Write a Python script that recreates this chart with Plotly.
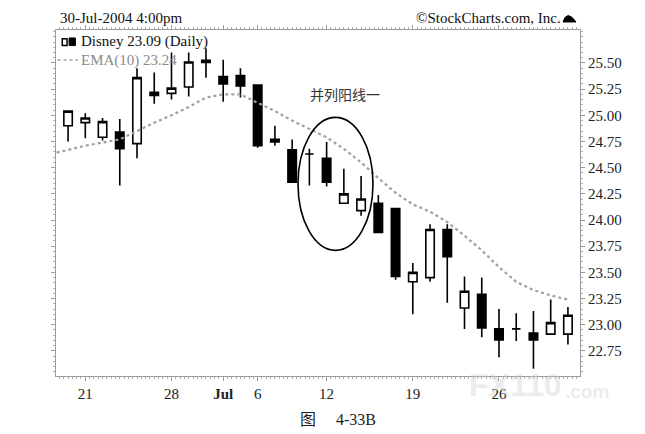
import plotly.graph_objects as go

# ---------------- data ----------------
DATES = ["Jun 18", "Jun 21", "Jun 22", "Jun 23", "Jun 24", "Jun 25", "Jun 28", "Jun 29",
         "Jun 30", "Jul 1", "Jul 2", "Jul 6", "Jul 7", "Jul 8", "Jul 9", "Jul 12", "Jul 13",
         "Jul 14", "Jul 15", "Jul 16", "Jul 19", "Jul 20", "Jul 21", "Jul 22", "Jul 23",
         "Jul 26", "Jul 27", "Jul 28", "Jul 29", "Jul 30"]
OPEN = [24.90, 24.93, 24.79, 24.84, 24.73, 25.22, 25.21, 25.27, 25.525, 25.37,
        25.38, 25.29, 24.77, 24.67, 24.63, 24.59, 24.16, 24.09, 24.16, 24.11,
        23.41, 23.45, 23.91, 23.16, 23.29, 22.96, 22.96, 22.92, 22.91, 22.91]
HIGH = [25.04, 25.02, 24.975, 24.965, 25.45, 25.41, 25.60, 25.60, 25.64, 25.53,
        25.45, 25.29, 24.90, 24.77, 24.68, 24.745, 24.49, 24.42, 24.24, 24.11,
        23.59, 23.96, 23.96, 23.46, 23.45, 23.15, 23.11, 23.13, 23.24, 23.17]
LOW = [24.75, 24.78, 24.76, 24.33, 24.59, 25.11, 25.15, 25.18, 25.36, 25.13,
       25.17, 24.69, 24.71, 24.36, 24.33, 24.32, 24.16, 24.04, 23.88, 23.43,
       23.10, 23.41, 23.21, 22.96, 22.88, 22.69, 22.845, 22.58, 22.91, 22.81]
CLOSE = [25.04, 24.975, 24.94, 24.68, 25.36, 25.19, 25.26, 25.51, 25.505, 25.30,
         25.28, 24.71, 24.745, 24.36, 24.63, 24.36, 24.25, 24.20, 23.88, 23.46,
         23.50, 23.91, 23.65, 23.32, 22.97, 22.855, 22.96, 22.855, 23.02, 23.09]
# EMA(10), starting one session earlier (Jun 17) than the first candle
EMA10 = [24.63, 24.67, 24.71, 24.74, 24.77, 24.85, 24.93, 25.00, 25.08, 25.17, 25.20,
         25.20, 25.12, 25.04, 24.95, 24.87, 24.79, 24.68, 24.55, 24.40, 24.26,
         24.15, 24.08, 23.98, 23.85, 23.71, 23.55, 23.41, 23.33, 23.28, 23.24]
X_TICK_DATES = ["Jun 21", "Jun 28", "Jul 1", "Jul 6", "Jul 12", "Jul 19", "Jul 26"]
X_TICK_LABELS = ["21", "28", "<b>Jul</b>", "6", "12", "19", "26"]
Y_TICKS = [22.75, 23.00, 23.25, 23.50, 23.75, 24.00, 24.25, 24.50, 24.75, 25.00, 25.25, 25.50]

x_idx = list(range(len(DATES)))
ema_idx = list(range(-1, len(DATES)))
tick_pos = [DATES.index(d) for d in X_TICK_DATES]

SERIF = "Liberation Serif, Times New Roman, serif"
CJK = "Noto Sans CJK SC"

fig = go.Figure()
fig.add_trace(go.Scatter(
    x=ema_idx, y=EMA10, mode="lines",
    line=dict(color="#a0a0a0", width=2.2, dash="dot"),
    hoverinfo="skip", showlegend=False))
fig.add_trace(go.Candlestick(
    x=x_idx, open=OPEN, high=HIGH, low=LOW, close=CLOSE,
    text=DATES, whiskerwidth=0,
    increasing=dict(fillcolor="white", line=dict(color="black", width=1.6)),
    decreasing=dict(fillcolor="black", line=dict(color="black", width=1.6)),
    showlegend=False))

# the page body adds an 8px margin, so the figure is 8px smaller and its margins shifted
fig.update_layout(
    width=637, height=426,
    margin=dict(l=48, r=65, t=22, b=58),
    paper_bgcolor="white", plot_bgcolor="white",
    font=dict(family=SERIF, size=15, color="#222"),
    xaxis=dict(
        range=[-0.7, 29.7], rangeslider=dict(visible=False),
        tickmode="array", tickvals=tick_pos, ticktext=X_TICK_LABELS,
        showline=True, linecolor="#9a9a9a", linewidth=1, mirror="ticks",
        ticks="outside", ticklen=4, tickcolor="#9a9a9a",
        minor=dict(ticks="outside", dtick=0.25, ticklen=2, tickcolor="#b0b0b0"),
        showgrid=False, zeroline=False,
        tickfont=dict(family=SERIF, size=15, color="#222")),
    yaxis=dict(
        range=[22.51, 25.815], side="right",
        tickmode="array", tickvals=Y_TICKS, ticktext=[f"{v:.2f}" for v in Y_TICKS],
        showline=True, linecolor="#9a9a9a", linewidth=1, mirror="ticks",
        ticks="outside", ticklen=4, tickcolor="#9a9a9a",
        minor=dict(ticks="outside", dtick=0.05, ticklen=2, tickcolor="#b0b0b0"),
        showgrid=False, zeroline=False,
        tickfont=dict(family=SERIF, size=15, color="#222")),
)

# ellipse marking the pattern
fig.add_shape(type="circle", xref="x", yref="y", x0=13.34, x1=17.69, y0=23.71, y1=24.98,
              line=dict(color="black", width=1.6))
fig.add_annotation(x=16.07, y=25.20, xref="x", yref="y", text="并列阳线一", showarrow=False,
                   font=dict(family=CJK, size=14, color="#333"))

# header texts
fig.add_annotation(x=0.004, y=1.035, xref="paper", yref="paper", xanchor="left", yanchor="middle",
                   text="30-Jul-2004 4:00pm", showarrow=False, font=dict(family=SERIF, size=15, color="#111"))
fig.add_annotation(x=0.968, y=1.035, xref="paper", yref="paper", xanchor="right", yanchor="middle",
                   text="©StockCharts.com, Inc.", showarrow=False, font=dict(family=SERIF, size=15, color="#111"))
fig.add_shape(type="path", xref="paper", yref="paper",
              path="M 0.9676 1.0232 Q 0.9750 1.060 0.9924 1.0232 Z",
              fillcolor="black", line=dict(color="black", width=1))

# legend block
fig.add_shape(type="rect", xref="paper", yref="paper", x0=0.012, x1=0.021, y0=0.955, y1=0.975,
              fillcolor="white", line=dict(color="black", width=1.5))
fig.add_shape(type="rect", xref="paper", yref="paper", x0=0.025, x1=0.037, y0=0.955, y1=0.977,
              fillcolor="black", line=dict(color="black", width=1))
fig.add_annotation(x=0.044, y=0.966, xref="paper", yref="paper", xanchor="left", yanchor="middle",
                   text="Disney 23.09 (Daily)", showarrow=False, font=dict(family=SERIF, size=15, color="#111"))
fig.add_shape(type="line", xref="paper", yref="paper", x0=0.003, x1=0.042, y0=0.913, y1=0.913,
              line=dict(color="#a0a0a0", width=1.5, dash="dot"))
fig.add_annotation(x=0.044, y=0.913, xref="paper", yref="paper", xanchor="left", yanchor="middle",
                   text="EMA(10) 23.24", showarrow=False, font=dict(family=SERIF, size=15, color="#8a8a8a"))

# caption
fig.add_annotation(x=0.538, y=-0.127, xref="paper", yref="paper", xanchor="center", yanchor="middle",
                   text="图     4-33B", showarrow=False,
                   font=dict(family="Liberation Serif, Noto Sans CJK SC", size=16, color="#222"))

# faint watermark
fig.add_annotation(x=0.784, y=-0.026, xref="paper", yref="paper", xanchor="left", yanchor="middle",
                   text="<b>FX110</b>", showarrow=False,
                   font=dict(family="Liberation Sans", size=32, color="rgba(205,205,205,0.4)"))
fig.add_annotation(x=0.968, y=-0.046, xref="paper", yref="paper", xanchor="left", yanchor="middle",
                   text="<b>.com</b>", showarrow=False,
                   font=dict(family="Liberation Sans", size=19, color="rgba(205,205,205,0.4)"))

fig.write_html("out.html")
